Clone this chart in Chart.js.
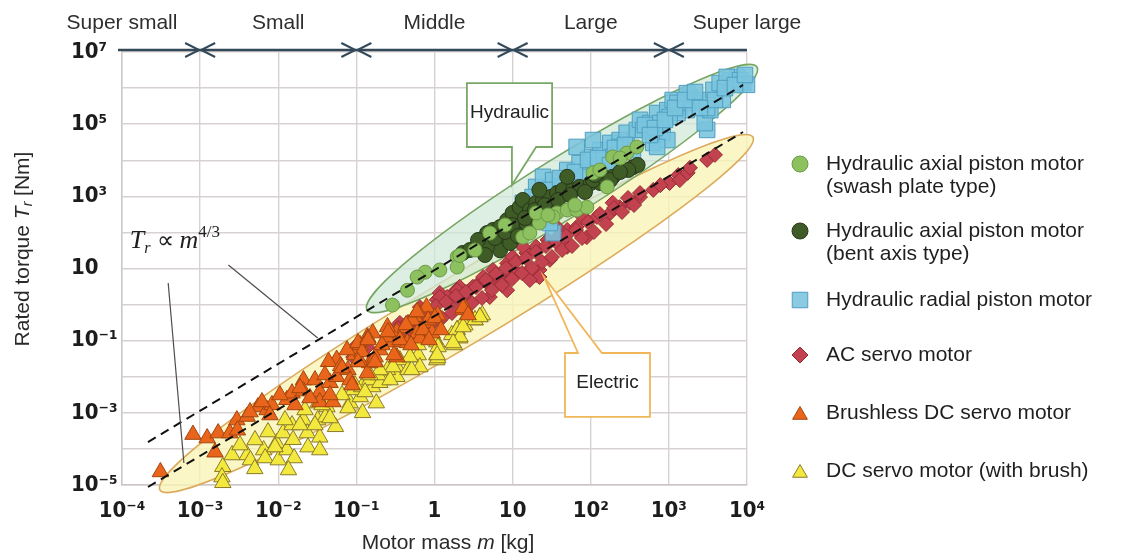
<!DOCTYPE html>
<html>
<head>
<meta charset="utf-8">
<script src="https://cdn.jsdelivr.net/npm/chart.js@4.4.1/dist/chart.umd.min.js"></script>
<style>
  html, body { margin: 0; padding: 0; background: #fff; }
  #wrap { width: 1126px; height: 560px; }
</style>
</head>
<body>
<div id="wrap"><canvas id="torqueChart" width="1126" height="560"></canvas></div>
<script>
// axis ticks
const xTicks = [1e-4, 1e-3, 1e-2, 1e-1, 1, 10, 1e2, 1e3, 1e4];
const xTickLabels = ['10⁻⁴', '10⁻³', '10⁻²', '10⁻¹', '1', '10', '10²', '10³', '10⁴'];
const yTicks = [1e-5, 1e-4, 1e-3, 1e-2, 1e-1, 1, 10, 1e2, 1e3, 1e4, 1e5, 1e6, 1e7];
const yTickLabels = ['10⁻⁵', '', '10⁻³', '', '10⁻¹', '', '10', '', '10³', '', '10⁵', '', '10⁷'];

// motor size classes along the top
const sizeClasses = ['Super small', 'Small', 'Middle', 'Large', 'Super large'];
const sizeClassCenters = [1e-4, 1e-2, 1, 1e2, 1e4];
const sizeBoundaries = [1e-3, 1e-1, 10, 1e3];

const seriesNames = [
  ['Hydraulic axial piston motor', '(swash plate type)'],
  ['Hydraulic axial piston motor', '(bent axis type)'],
  ['Hydraulic radial piston motor'],
  ['AC servo motor'],
  ['Brushless DC servo motor'],
  ['DC servo motor (with brush)']
];

// [motor mass kg, rated torque Nm]
const swashPlate = [
  [0.29, 0.97], [0.45, 2.5], [0.76, 7.9], [0.60, 5.8], [1.95, 21], [1.95, 11], [2.1, 23],
  [5.1, 96], [13.5, 74], [16.6, 96], [22, 182], [37, 347], [50, 417], [66, 417], [89, 501],
  [33, 269], [20, 347], [107, 4470], [191, 12300], [288, 15800], [389, 23400], [162, 1820],
  [1.17, 9.1], [3.3, 32.6], [8.0, 161], [28.4, 304], [62.8, 575], [131, 5370], [237, 11500]
];
const bentAxis = [
  [2.3, 27], [4.2, 32], [4.7, 96], [5.6, 117], [6.9, 141], [7.6, 51], [8.5, 219], [10, 347],
  [12.3, 501], [13.5, 794], [16.6, 417], [20, 661], [24.5, 794], [30, 955], [37, 1230],
  [44, 1510], [59, 1510], [72, 1820], [100, 2340], [132, 2340], [162, 2820], [11.5, 141],
  [18, 219], [33, 417], [6.9, 32], [4.7, 40], [22, 1510], [50, 3470], [107, 2820], [191, 3470],
  [347, 6460], [398, 7410], [302, 5370], [145, 3470], [178, 2820], [9.3, 51], [15, 182], [28, 501],
  [2.84, 32.6], [3.61, 61.7], [4.43, 23.7], [5.94, 70], [7.98, 103], [9.82, 161], [11.7, 79.6],
  [14.4, 251], [19.3, 418], [25.9, 575], [38.1, 791], [54.2, 1090], [84.3, 1320], [113, 3900],
  [237, 4720]
];
const radialPiston = [
  [20, 1820], [24.5, 3470], [33, 2820], [50, 5370], [72, 8320], [100, 12300], [132, 19100],
  [178, 30200], [234, 36300], [288, 57500], [389, 69200], [427, 132000], [575, 107000],
  [708, 204000], [955, 245000], [1120, 468000], [1380, 302000], [1860, 562000], [2510, 468000],
  [3090, 69200], [2880, 107000], [3720, 891000], [4470, 1380000], [6030, 1660000],
  [7410, 2040000], [8910, 1380000], [4900, 468000], [3390, 245000], [191, 12300], [162, 6460],
  [120, 2820], [107, 36300], [66, 23400], [631, 30200], [832, 57500], [347, 19100], [28, 219],
  [33, 96], [30, 182], [5500, 2040000], [8130, 1660000], [10000, 1230000], [2040, 389000],
  [1700, 245000], [1290, 204000], [1020, 158000], [776, 107000], [468, 69200], [234, 23400],
  [145, 10200], [79, 3470], [59, 2820], [44, 1820], [955, 36300], [708, 23400], [1700, 724000],
  [1290, 389000], [13.5, 661], [18, 955], [3090, 282000],
  [25.9, 1500], [40.4, 3220], [62.8, 4720], [92.3, 10200], [124, 11500], [204, 21900],
  [274, 26500], [494, 94800], [664, 78300], [891, 131000], [1200, 281000], [1610, 468000],
  [2160, 780000], [3890, 468000], [5220, 1000000], [7010, 1220000], [9420, 2310000],
  [2500, 281000], [573, 50100], [176, 7380]
];
const acServo = [
  [0.091, 0.035], [0.138, 0.066], [0.27, 0.20], [0.36, 0.31], [0.49, 0.31], [0.71, 0.59],
  [1.07, 1.35], [1.17, 2.1], [1.74, 2.1], [2.1, 3.1], [2.8, 2.5], [3.5, 3.5], [4.7, 4.0],
  [6.3, 4.8], [1.58, 1.1], [2.6, 1.35], [1.45, 1.62], [1.95, 2.5], [7.6, 4.8], [10, 5.8],
  [15, 7.6], [20, 6.6], [22, 9.1], [0.87, 0.31], [1.17, 0.37], [0.65, 0.85], [0.52, 0.37],
  [1.17, 1.62], [3.1, 3.1], [4.2, 5.8], [5.6, 9.1], [8.5, 14], [10, 21], [15, 27], [20, 40],
  [28, 62], [37, 74], [50, 117], [66, 141], [89, 219], [120, 269], [178, 347], [234, 501],
  [316, 661], [427, 955], [6.9, 4.8], [11.5, 7.6], [22, 5.8], [16.6, 4.8], [30, 17.4], [50, 40],
  [89, 74], [8.5, 2.5], [5.1, 1.62], [13.5, 40], [37, 141], [79, 269], [191, 661], [631, 1510],
  [1020, 2340], [1320, 3890], [1740, 4470], [3090, 10200], [3890, 14100], [1860, 6170],
  [1380, 2820], [427, 1230], [776, 2040], [0.095, 0.066], [0.33, 0.126],
  [0.341, 0.224], [0.407, 0.119], [0.458, 0.329], [0.547, 0.163], [0.615, 0.425], [0.734, 0.21],
  [0.826, 0.622], [0.929, 0.29], [1.045, 0.914], [1.247, 0.425], [1.403, 1.18], [1.675, 0.585],
  [1.884, 1.73], [2.25, 0.857], [2.53, 2.23], [3.02, 1.11], [3.4, 3.07], [4.06, 1.52],
  [4.56, 4.8], [5.45, 2.53], [6.12, 7.05], [7.31, 3.49], [8.22, 10.3], [9.82, 5.12],
  [11.0, 15.1], [13.2, 7.5], [14.8, 19.5], [17.7, 10.3], [19.9, 28.6], [23.8, 15.1],
  [26.7, 42], [31.9, 20.8], [35.9, 54.2], [42.9, 32.6], [48.2, 79.6], [57.5, 42], [64.7, 117],
  [77.3, 70], [92.3, 195], [110, 103], [131, 324], [157, 171], [199, 475], [251, 368],
  [300, 900], [358, 575]
];
const brushlessDc = [
  [3.1e-4, 2.3e-5], [8.1e-4, 2.5e-4], [1.23e-3, 2.0e-4], [1.7e-3, 2.75e-4], [1.55e-3, 8.1e-5],
  [2.4e-3, 2.75e-4], [2.95e-3, 6.3e-4], [3.0e-3, 3.3e-4], [5.5e-3, 1.45e-3], [7.2e-3, 1.2e-3],
  [8.3e-3, 1.66e-3], [1.29e-2, 2.3e-3], [1.5e-2, 3.5e-3], [2.1e-2, 8.1e-3], [2.95e-2, 8.1e-3],
  [3.4e-2, 3.8e-3], [3.4e-2, 2.0e-3], [4.6e-2, 6.8e-3], [5.6e-2, 1.0e-2], [5.0e-2, 2.0e-3],
  [7.8e-2, 1.55e-2], [9.5e-2, 4.0e-2], [5.6e-2, 3.0e-2], [0.112, 7.6e-2], [0.138, 0.126],
  [0.162, 0.162], [0.20, 5.5e-2], [0.295, 9.1e-2], [0.33, 3.5e-2], [0.148, 2.4e-2],
  [8.3e-2, 8.1e-3], [4.4e-2, 2.6e-2], [7.6e-2, 5.5e-2], [0.105, 8.7e-2], [0.141, 0.117],
  [0.112, 2.6e-2], [0.174, 3.5e-2], [0.245, 0.126], [0.33, 0.174], [0.45, 8.7e-2], [0.56, 0.457],
  [0.60, 0.162], [0.79, 0.85], [0.79, 0.31], [0.93, 0.162], [2.3, 0.71], [0.25, 0.24],
  [0.138, 1.26e-2], [0.42, 0.224], [0.52, 0.37], [0.62, 0.62], [1.1, 0.51], [2.45, 0.81],
  [0.65, 0.117], [0.83, 0.37], [6.3e-2, 2.0e-2], [2.1e-2, 4.0e-3], [4.0e-3, 7.9e-4],
  [0.118, 0.0485], [0.141, 0.1045], [0.173, 0.0256], [0.213, 0.0759], [0.254, 0.174],
  [0.303, 0.0401], [0.361, 0.1045], [0.432, 0.272], [0.5, 0.0759], [0.597, 0.622],
  [0.713, 0.198], [0.851, 0.1045], [1.01, 0.425], [1.21, 0.198], [2.32, 0.804], [2.69, 0.514],
  [4.35e-3, 1.05e-3], [6.19e-3, 2.0e-3], [7.83e-3, 8.7e-4], [1.05e-2, 3.12e-3],
  [1.64e-2, 1.65e-3], [1.9e-2, 4.88e-3], [2.55e-2, 2.58e-3], [3.96e-2, 1.12e-2],
  [4.59e-2, 3.12e-3], [6.55e-2, 1.75e-2], [8.79e-2, 5.9e-3], [0.105, 0.0256]
];
const dcBrush = [
  [1.95e-3, 3.2e-5], [1.9e-3, 1.66e-5], [1.95e-3, 1.15e-5], [4.0e-3, 6.8e-5], [4.4e-3, 4.9e-5],
  [6.5e-3, 9.3e-5], [6.8e-3, 5.6e-5], [9.5e-3, 1.45e-4], [1.0e-2, 4.9e-5], [1.15e-2, 2.75e-4],
  [1.29e-2, 9.3e-5], [1.5e-2, 4.6e-4], [1.55e-2, 1.8e-4], [1.6e-2, 5.6e-5], [2.1e-2, 6.3e-4],
  [2.35e-2, 2.75e-4], [2.4e-2, 1.12e-4], [3.2e-2, 6.3e-4], [3.4e-2, 2.1e-4], [3.4e-2, 9.3e-5],
  [4.2e-2, 1.45e-3], [5.4e-2, 4.1e-4], [3.2e-2, 1.86e-3], [1.35e-2, 2.6e-5], [4.0e-2, 7.6e-4],
  [8.3e-2, 1.86e-3], [0.112, 2.75e-3], [0.12, 1.0e-3], [0.162, 5.2e-3], [0.22, 8.1e-3],
  [0.27, 1.55e-2], [0.33, 1.86e-2], [0.18, 1.86e-3], [0.33, 1.0e-2], [9.1e-2, 4.3e-3],
  [0.117, 5.2e-3], [0.148, 8.1e-3], [0.20, 6.8e-3], [0.19, 1.12e-2], [0.25, 1.55e-2],
  [0.36, 2.9e-2], [0.457, 1.55e-2], [0.49, 3.5e-2], [0.62, 4.0e-2], [0.65, 1.86e-2],
  [0.62, 7.6e-2], [1.07, 9.1e-2], [1.07, 4.0e-2], [1.07, 2.9e-2], [1.95, 0.20], [2.1, 0.117],
  [2.3, 0.31], [3.3, 0.37], [4.1, 0.51], [0.51, 1.55e-2], [1.1, 3.3e-2], [1.66, 0.145],
  [1.8, 7.6e-2], [2.45, 0.27], [3.8, 0.457], [0.27, 8.1e-3], [5.0e-3, 2.8e-5],
  [1.94, 0.198], [2.12, 0.126], [1.73, 0.0861], [2.32, 0.239], [3.3, 0.374], [3.82, 0.453],
  [1.01, 0.104], [1.11, 0.0668], [1.08, 0.0401], [0.485, 0.0353], [0.294, 0.0186],
  [0.2, 0.0154], [2.56e-3, 6.78e-5], [3.24e-3, 1.28e-4], [5.04e-3, 1.77e-4], [7.39e-3, 2.94e-4],
  [9.08e-3, 1.13e-4], [1.22e-2, 6.33e-4], [1.9e-2, 4.6e-4], [2.2e-2, 1.2e-3], [2.95e-2, 4.6e-4],
  [3.63e-2, 1.65e-3], [4.59e-2, 7.19e-4], [6.55e-2, 3.12e-3], [7.81e-2, 1.36e-3],
  [9.6e-2, 5.9e-3], [0.129, 3.78e-3], [0.149, 1.12e-2]
];

// T ∝ m^(4/3) guide lines, end points
const trendHydraulic = [[2.15e-4, 1.55e-4], [8900, 1.22e6]];
const trendElectric = [[2.15e-4, 8.8e-6], [8900, 6.07e4]];

// shaded regions: two tip points of each ellipse
const hydraulicRegion = [[0.137, 0.708], [13400, 3.84e6]];
const electricRegion = [[3.06e-4, 7.26e-6], [11900, 4.4e4]];

// callouts: box corners, pointer base (mass values) and tip
const hydraulicBox = [[2.6, 1.38e6], [32, 2.33e4]];
const hydraulicPointer = [[9.8, 20], [9.8, 2060]];
const electricBox = [[46.8, 0.0455], [573, 7.7e-4]];
const electricPointer = [[68.7, 139], [25.2, 5.82]];

// formula label and its two leader lines
const formulaAnchor = [1.26e-4, 37];
const formulaLeaders = [
  [[3.9e-4, 3.96], [6.2e-4, 4.07e-5]],
  [[2.3e-3, 12.5], [3.2e-2, 0.119]]
];

const SANS = "'Liberation Sans', Arial, Helvetica, sans-serif";
const TICKFONT = "'Liberation Sans Narrow', 'DejaVu Sans Condensed', 'Liberation Sans', sans-serif";
const SERIF = "'Liberation Serif', 'Times New Roman', serif";

const markerLook = [
  { pointStyle: 'circle', radius: 7, fill: '#8dc05f', border: '#6a9a46' },
  { pointStyle: 'circle', radius: 7.5, fill: '#3f5b26', border: '#26381a' },
  { pointStyle: 'rect', radius: 11, fill: 'rgba(122,196,222,0.88)', border: '#4f9fc0' },
  { pointStyle: 'rectRot', radius: 7.5, fill: '#c3424f', border: '#952b35' },
  { pointStyle: 'triangle', radius: 9.5, fill: '#e8651b', border: '#a3450f' },
  { pointStyle: 'triangle', radius: 9.5, fill: '#f3e83e', border: '#8a7a2b' }
];
// which series sits on top (lower order = drawn later)
const drawOrder = [1, 2, 3, 5, 4, 6];

const seriesData = [swashPlate, bentAxis, radialPiston, acServo, brushlessDc, dcBrush];

const datasets = seriesData.map((pts, i) => ({
  label: seriesNames[i].join(' '),
  data: pts.map(p => ({ x: p[0], y: p[1] })),
  pointStyle: markerLook[i].pointStyle,
  pointRadius: markerLook[i].radius,
  backgroundColor: markerLook[i].fill,
  borderColor: markerLook[i].border,
  borderWidth: 1,
  clip: false,
  order: drawOrder[i]
}));

[trendHydraulic, trendElectric].forEach(line => {
  datasets.push({
    label: 'trend',
    data: line.map(p => ({ x: p[0], y: p[1] })),
    showLine: true,
    pointRadius: 0,
    borderColor: '#111',
    borderWidth: 2,
    borderDash: [9, 6],
    clip: false,
    order: 0
  });
});

function toPx(chart, p) {
  return { x: chart.scales.x.getPixelForValue(p[0]), y: chart.scales.y.getPixelForValue(p[1]) };
}

// draws a row of text pieces with different fonts, centred or left aligned
function drawRich(c, parts, x, y, align) {
  let total = 0;
  parts.forEach(p => { c.font = p.font; total += c.measureText(p.text).width; });
  let cx = align === 'center' ? x - total / 2 : x;
  parts.forEach(p => {
    c.font = p.font;
    c.fillText(p.text, cx, y + (p.dy || 0));
    cx += c.measureText(p.text).width;
  });
}

const regionsPlugin = {
  id: 'regions',
  beforeDatasetsDraw(chart) {
    const c = chart.ctx;
    const regions = [
      { tips: electricRegion, ratio: 0.10, fill: 'rgba(250,244,182,0.8)', stroke: '#dcaa5c' },
      { tips: hydraulicRegion, ratio: 0.13, fill: 'rgba(208,233,216,0.72)', stroke: '#76a562' }
    ];
    regions.forEach(r => {
      const a = toPx(chart, r.tips[0]), b = toPx(chart, r.tips[1]);
      const half = Math.hypot(b.x - a.x, b.y - a.y) / 2;
      const ang = Math.atan2(b.y - a.y, b.x - a.x);
      c.save();
      c.beginPath();
      c.ellipse((a.x + b.x) / 2, (a.y + b.y) / 2, half, half * r.ratio, ang, 0, Math.PI * 2);
      c.fillStyle = r.fill;
      c.fill();
      c.lineWidth = 1.6;
      c.strokeStyle = r.stroke;
      c.stroke();
      c.restore();
    });
  }
};

function drawCallout(chart, box, pointer, text, color) {
  const c = chart.ctx;
  const p1 = toPx(chart, box[0]), p2 = toPx(chart, box[1]);
  const x1 = Math.min(p1.x, p2.x), x2 = Math.max(p1.x, p2.x);
  const y1 = Math.min(p1.y, p2.y), y2 = Math.max(p1.y, p2.y);
  const bx1 = chart.scales.x.getPixelForValue(pointer[0][0]);
  const bx2 = chart.scales.x.getPixelForValue(pointer[0][1]);
  const tip = toPx(chart, pointer[1]);
  const down = tip.y > y2;
  c.save();
  c.beginPath();
  c.moveTo(x1, y1);
  if (!down) { c.lineTo(bx1, y1); c.lineTo(tip.x, tip.y); c.lineTo(bx2, y1); }
  c.lineTo(x2, y1);
  c.lineTo(x2, y2);
  if (down) { c.lineTo(bx2, y2); c.lineTo(tip.x, tip.y); c.lineTo(bx1, y2); }
  c.lineTo(x1, y2);
  c.closePath();
  c.fillStyle = '#fff';
  c.fill();
  c.lineWidth = 1.8;
  c.strokeStyle = color;
  c.stroke();
  c.fillStyle = '#222';
  c.font = '19px ' + SANS;
  c.textAlign = 'center';
  c.textBaseline = 'middle';
  c.fillText(text, (x1 + x2) / 2, (y1 + y2) / 2 - 2);
  c.restore();
}

const notesPlugin = {
  id: 'notes',
  afterDatasetsDraw(chart) {
    const c = chart.ctx;
    c.save();
    c.strokeStyle = '#4d4d4d';
    c.lineWidth = 1.2;
    formulaLeaders.forEach(l => {
      const a = toPx(chart, l[0]), b = toPx(chart, l[1]);
      c.beginPath(); c.moveTo(a.x, a.y); c.lineTo(b.x, b.y); c.stroke();
    });
    const f = toPx(chart, formulaAnchor);
    c.fillStyle = '#1e1e1e';
    c.textAlign = 'left';
    c.textBaseline = 'alphabetic';
    drawRich(c, [
      { text: 'T', font: 'italic 26px ' + SERIF },
      { text: 'r', font: 'italic 16px ' + SERIF, dy: 5 },
      { text: ' ∝ ', font: '24px ' + SERIF },
      { text: 'm', font: 'italic 26px ' + SERIF },
      { text: '4/3', font: '17px ' + SERIF, dy: -11 }
    ], f.x, f.y, 'left');
    c.restore();
    drawCallout(chart, hydraulicBox, hydraulicPointer, 'Hydraulic', '#78a864');
    drawCallout(chart, electricBox, electricPointer, 'Electric', '#f0b65a');
  },
  afterDraw(chart) {
    const c = chart.ctx;
    const xs = chart.scales.x;
    const area = chart.chartArea;
    const barY = area.top - 2;
    c.save();
    // size class bar
    c.strokeStyle = '#33495a';
    c.lineWidth = 2.5;
    c.beginPath();
    c.moveTo(area.left - 4, barY);
    c.lineTo(area.right, barY);
    c.stroke();
    c.lineWidth = 2;
    sizeBoundaries.forEach(b => {
      const px = xs.getPixelForValue(b);
      c.beginPath();
      c.moveTo(px - 15, barY - 7); c.lineTo(px - 1, barY); c.lineTo(px - 15, barY + 7);
      c.moveTo(px + 15, barY - 7); c.lineTo(px + 1, barY); c.lineTo(px + 15, barY + 7);
      c.stroke();
    });
    c.fillStyle = '#2e2e2e';
    c.font = '21px ' + SANS;
    c.textAlign = 'center';
    c.textBaseline = 'middle';
    sizeClasses.forEach((name, i) => {
      c.fillText(name, xs.getPixelForValue(sizeClassCenters[i]), 23);
    });

    // axis titles
    c.fillStyle = '#2a2a2a';
    c.textAlign = 'left';
    c.textBaseline = 'middle';
    drawRich(c, [
      { text: 'Motor mass ', font: '21px ' + SANS },
      { text: 'm', font: 'italic 21px ' + SANS },
      { text: ' [kg]', font: '21px ' + SANS }
    ], 448, 543, 'center');
    c.save();
    c.translate(23, 249);
    c.rotate(-Math.PI / 2);
    drawRich(c, [
      { text: 'Rated torque ', font: '21px ' + SANS },
      { text: 'T', font: 'italic 21px ' + SANS },
      { text: 'r', font: 'italic 14px ' + SANS, dy: 5 },
      { text: ' [Nm]', font: '21px ' + SANS }
    ], 0, 0, 'center');
    c.restore();

    // legend
    const rows = [164, 231, 300, 355, 413, 471];
    c.font = '21px ' + SANS;
    c.textAlign = 'left';
    c.textBaseline = 'middle';
    seriesNames.forEach((lines, i) => {
      const m = markerLook[i];
      c.fillStyle = m.fill;
      c.strokeStyle = m.border;
      c.lineWidth = 1;
      const r = m.pointStyle === 'triangle' ? 8.5 : (m.pointStyle === 'rect' ? 11 : 8);
      Chart.helpers.drawPoint(c, { pointStyle: m.pointStyle, radius: r, borderWidth: 1, rotation: 0 },
        800, rows[i] + (m.pointStyle === 'triangle' ? 2 : 0));
      c.fillStyle = '#1f1f1f';
      lines.forEach((t, k) => c.fillText(t, 826, rows[i] + k * 23));
    });
    c.restore();
  }
};

new Chart(document.getElementById('torqueChart'), {
  type: 'scatter',
  data: { datasets },
  plugins: [regionsPlugin, notesPlugin],
  options: {
    responsive: false,
    animation: false,
    events: [],
    layout: { padding: { left: 71, top: 52, right: 379, bottom: 0 } },
    plugins: { legend: { display: false }, tooltip: { enabled: false } },
    scales: {
      x: {
        type: 'logarithmic',
        min: 1e-4,
        max: 1e4,
        afterBuildTicks: s => { s.ticks = xTicks.map(v => ({ value: v })); },
        afterFit: s => { s.height = 75; },
        grid: { color: '#d8d1d1', lineWidth: 1.4, drawTicks: false },
        border: { color: '#cdc6c6', width: 1.4 },
        ticks: {
          autoSkip: false, maxRotation: 0, padding: 13, color: '#1c1c1c',
          font: { family: TICKFONT, size: 22, weight: 'bold' },
          callback: (v, i) => xTickLabels[i]
        }
      },
      y: {
        type: 'logarithmic',
        min: 1e-5,
        max: 1e7,
        afterBuildTicks: s => { s.ticks = yTicks.map(v => ({ value: v })); },
        afterFit: s => { s.width = 51; },
        grid: { color: '#d8d1d1', lineWidth: 1.4, drawTicks: false },
        border: { color: '#cdc6c6', width: 1.4 },
        ticks: {
          autoSkip: false, crossAlign: 'far', padding: 0, color: '#1c1c1c',
          font: { family: TICKFONT, size: 22, weight: 'bold' },
          callback: (v, i) => yTickLabels[i]
        }
      }
    }
  }
});
</script>
</body>
</html>
